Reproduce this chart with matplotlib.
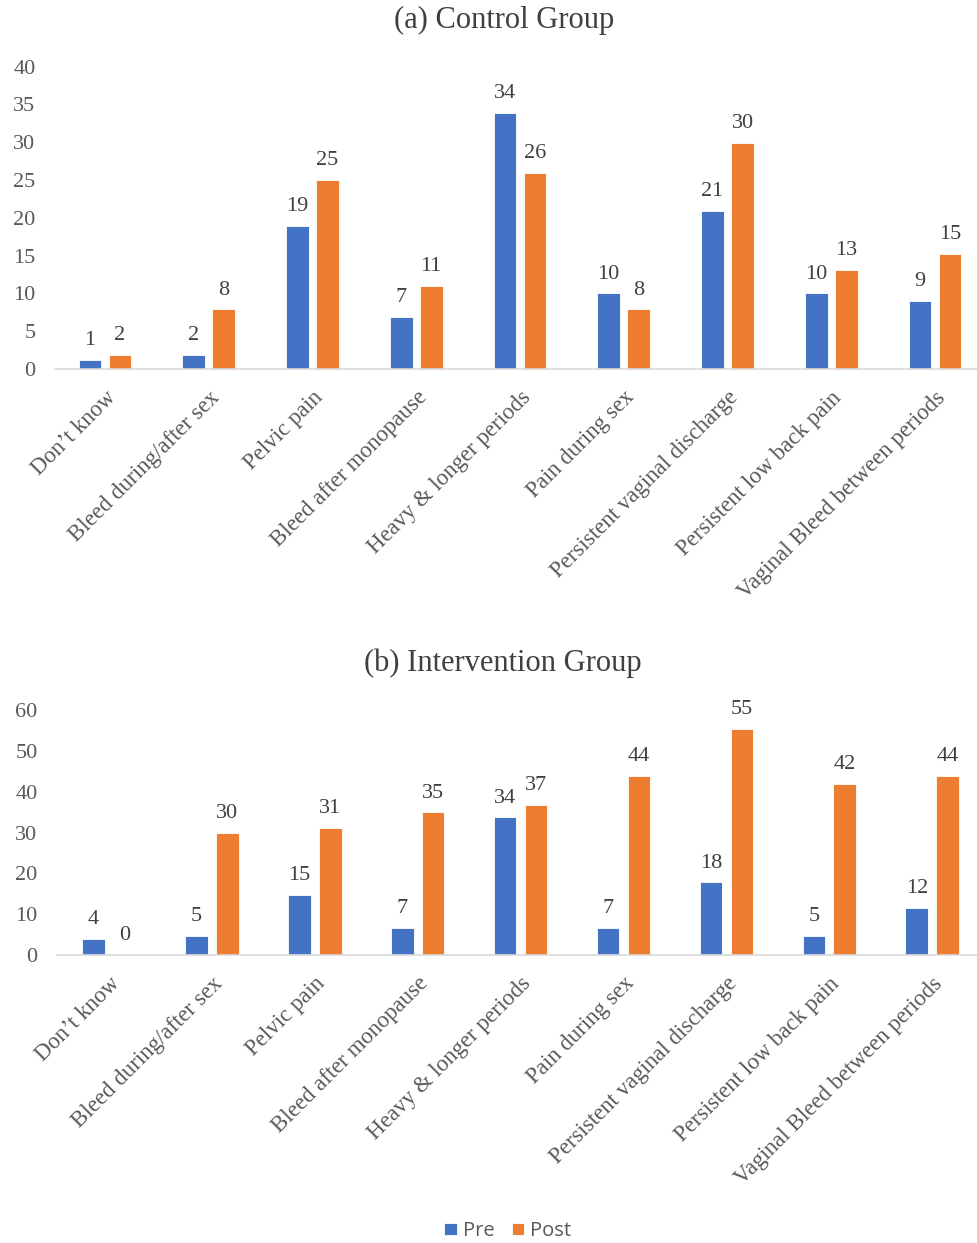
import matplotlib.pyplot as plt
import numpy as np

categories = ['Don\u2019t know', 'Bleed during/after sex', 'Pelvic pain',
              'Bleed after monopause', 'Heavy & longer periods', 'Pain during sex',
              'Persistent vaginal discharge', 'Persistent low back pain',
              'Vaginal Bleed between periods']
# bar heights, labels show them rounded
control_pre = [1.2, 1.85, 18.9, 6.9, 33.9, 10.0, 20.9, 10.0, 9.0]
control_post = [1.85, 7.9, 25.0, 11.0, 26.0, 7.9, 29.9, 13.1, 15.2]
interv_pre = [3.9, 4.6, 14.7, 6.6, 33.7, 6.6, 17.8, 4.6, 11.6]
interv_post = [0, 30.0, 31.2, 34.9, 36.7, 43.8, 55.3, 41.9, 43.8]
control_ticks = [0, 5, 10, 15, 20, 25, 30, 35, 40]
interv_ticks = [0, 10, 20, 30, 40, 50, 60]

BLUE = '#4472C4'
ORANGE = '#ED7D31'
SERIF = 'Liberation Serif'
FS = 16

W, H = 977, 1243
fig = plt.figure(figsize=(W / 100, H / 100), dpi=100)


def draw(ax, pre, post, ticks, xlim, off):
    x = np.arange(len(categories))
    b1 = ax.bar(x - off, pre, width=0.22, color=BLUE, edgecolor='white', linewidth=0.6, label='Pre')
    b2 = ax.bar(x + off, post, width=0.22, color=ORANGE, edgecolor='white', linewidth=0.6, label='Post')
    for bars in (b1, b2):
        for b in bars:
            ax.annotate('%.0f' % b.get_height(), (b.get_x() + b.get_width() / 2, b.get_height()),
                        xytext=(0, 7), textcoords='offset points', ha='center', va='bottom',
                        fontsize=FS, family=SERIF, color='#404040')
    ax.set_xlim(*xlim)
    ax.set_ylim(ticks[0], ticks[-1])
    ax.set_yticks(ticks)
    ax.set_xticks(x)
    ax.set_xticklabels(categories, rotation=45, ha='right', rotation_mode='anchor',
                       fontsize=16.5, family=SERIF, color='#595959')
    for lab in ax.get_yticklabels():
        lab.set_family(SERIF)
        lab.set_fontsize(FS)
        lab.set_color('#595959')
    ax.tick_params(axis='both', length=0)
    ax.tick_params(axis='x', pad=13)
    ax.tick_params(axis='y', pad=14)
    for s in ['left', 'right', 'top']:
        ax.spines[s].set_visible(False)
    ax.spines['bottom'].set_color('#D9D9D9')
    ax.spines['bottom'].set_linewidth(1.2)
    return b1, b2


ax1 = fig.add_axes([55 / W, 1 - 369 / H, (W - 55) / W, (369 - 66.7) / H])
draw(ax1, control_pre, control_post, control_ticks, (-0.482, 8.405), 0.145)
fig.text(504 / W, 1 - 20 / H, '(a) Control Group', ha='center', va='center',
         fontsize=22, family=SERIF, color='#404040')

ax2 = fig.add_axes([57 / W, 1 - 955 / H, (W - 57) / W, (955 - 710) / H])
b1, b2 = draw(ax2, interv_pre, interv_post, interv_ticks, (-0.505, 8.435), 0.15)
fig.text(503 / W, 1 - 663 / H, '(b) Intervention Group', ha='center', va='center',
         fontsize=22, family=SERIF, color='#404040')

leg = fig.legend([b1, b2], ['Pre', 'Post'], loc='center', bbox_to_anchor=(508 / W, 1 - 1231 / H),
                 ncol=2, frameon=False, handlelength=0.6, handleheight=0.6,
                 handletextpad=0.3, columnspacing=0.9, prop={'family': 'Open Sans', 'size': 14.5})
for t in leg.get_texts():
    t.set_color('#595959')

fig.savefig('out.png', dpi=100)
